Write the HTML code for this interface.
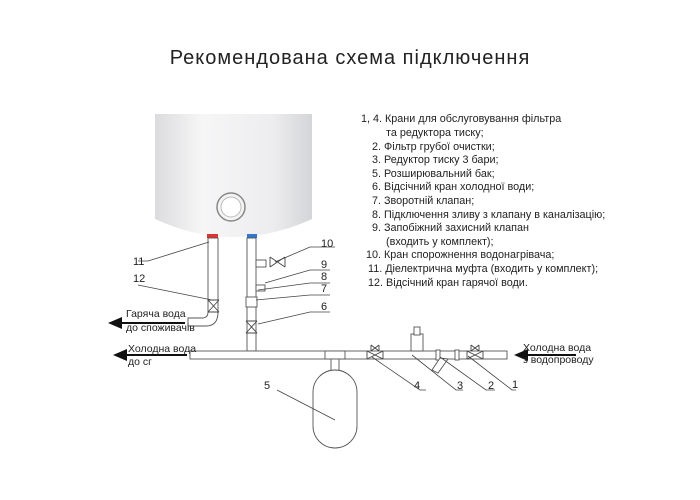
<!DOCTYPE html>
<html><head><meta charset="utf-8"><style>
body{margin:0;background:#fff;}
svg{display:block;font-family:"Liberation Sans",sans-serif;}
</style></head><body>
<svg width="700" height="500" viewBox="0 0 700 500">
<defs>
<linearGradient id="g" x1="0" x2="1"><stop offset="0" stop-color="#dcdcde"/><stop offset="0.3" stop-color="#f6f6f7"/><stop offset="0.75" stop-color="#ededef"/><stop offset="1" stop-color="#d4d5d8"/></linearGradient>
</defs>
<text x="350" y="64" font-size="20" text-anchor="middle" fill="#222" letter-spacing="1">Рекомендована схема підключення</text>
<path d="M155 114 H312 V219 Q233 255 155 219 Z" fill="url(#g)"/>
<circle cx="231" cy="207" r="14" fill="#f4f4f4" stroke="#888" stroke-width="1.5"/>
<circle cx="231" cy="207" r="10" fill="#fff" stroke="#bbb"/>
<rect x="207" y="234" width="11" height="4" fill="#d33"/>
<rect x="247" y="234" width="10" height="4" fill="#37c"/>
<g fill="#fff" stroke="#555" stroke-width="0.9">
<rect x="208" y="238" width="10" height="62"/>
<path d="M208 300 V312 Q208 318 202 318 H188 V326 H206 Q218 326 218 312 V300"/>
<rect x="247" y="238" width="9" height="113"/>
<rect x="256" y="260" width="10" height="7"/>
<rect x="246" y="297" width="11" height="10"/>
<rect x="256" y="285" width="9" height="6"/>
<rect x="190" y="351" width="317" height="8"/>
<rect x="325" y="351" width="20" height="8"/>
<rect x="331" y="359" width="8" height="12"/>
<rect x="313" y="370" width="44" height="78" rx="22"/>
<rect x="411" y="334" width="12" height="17"/>
<rect x="414" y="327" width="6" height="8"/>
<rect x="436" y="350" width="4" height="10"/>
<rect x="455" y="350" width="4" height="10"/>
<path d="M440 358 L432 370 L438 373 L448 359 Z"/>
</g>
<g fill="#fff" stroke="#444" stroke-width="0.9">
<path d="M367 351 L383 359 M367 359 L383 351 M367 351 V359 M383 351 V359"/>
<path d="M371 345 L379 351 M371 351 L379 345 M371 345 V351 M379 345 V351"/>
<path d="M467 351 L483 359 M467 359 L483 351 M467 351 V359 M483 351 V359"/>
<path d="M471 345 L479 351 M471 351 L479 345 M471 345 V351 M479 345 V351"/>
<path d="M246 321 L257 333 M257 321 L246 333 M246 321 H257 M246 333 H257"/>
<path d="M208 300 L219 312 M219 300 L208 312 M208 300 H219 M208 312 H219"/>
<path d="M270 257 L285 267 M270 267 L285 257 M270 257 V267 M285 257 V267"/>
</g>
<g stroke="#444" stroke-width="0.8" fill="none">
<path d="M138 261 H148 L209 242"/>
<path d="M138 285 L212 300"/>
<path d="M275 262 L310 247 H335"/>
<path d="M265 283 L310 270 H330"/>
<path d="M258 290 L310 283 H330"/>
<path d="M256 300 L310 295 H330"/>
<path d="M258 324 L310 312 H330"/>
<path d="M277 390 L335 420"/>
<path d="M372 357 L420 390 H426"/>
<path d="M412 355 L456 390 H463"/>
<path d="M440 357 L486 390 H495"/>
<path d="M468 356 L512 390 H516"/>
</g>
<g font-size="11" fill="#222">
<text x="133" y="265">11</text>
<text x="133" y="282">12</text>
<text x="321" y="247">10</text>
<text x="321" y="268">9</text>
<text x="321" y="280">8</text>
<text x="321" y="292">7</text>
<text x="321" y="310">6</text>
<text x="264" y="389">5</text>
<text x="414" y="389">4</text>
<text x="457" y="389">3</text>
<text x="488" y="389">2</text>
<text x="512" y="388">1</text>
</g>
<g fill="#111">
<path d="M108 323 L122 317 V329 Z"/><rect x="120" y="322" width="65" height="2"/>
<path d="M113 355 L127 349 V361 Z"/><rect x="125" y="354" width="62" height="2"/>
<path d="M514 355 L528 349 V361 Z"/><rect x="526" y="354" width="50" height="2"/>
</g>
<g font-size="10.5" fill="#222">
<text x="126" y="317">Гаряча вода</text>
<text x="126" y="331">до споживачів</text>
<text x="128" y="352">Холодна вода</text>
<text x="128" y="365">до сг</text>
<text x="523" y="351">Холодна вода</text>
<text x="523" y="363">з водопроводу</text>
</g>
<g font-size="10.8" fill="#222">
<text x="361" y="122">1, 4.  Крани для обслуговування фільтра</text>
<text x="386" y="136">та редуктора тиску;</text>
<text x="372" y="150">2.  Фільтр грубої очистки;</text>
<text x="372" y="163">3.  Редуктор тиску 3 бари;</text>
<text x="372" y="177">5.  Розширювальний бак;</text>
<text x="372" y="190">6.  Відсічний кран холодної води;</text>
<text x="372" y="204">7.  Зворотній клапан;</text>
<text x="372" y="218">8.  Підключення зливу з клапану в каналізацію;</text>
<text x="372" y="231">9.  Запобіжний захисний клапан</text>
<text x="386" y="245">(входить у комплект);</text>
<text x="366" y="258">10.  Кран спорожнення водонагрівача;</text>
<text x="368" y="272">11.  Діелектрична муфта (входить у комплект);</text>
<text x="368" y="286">12.  Відсічний кран гарячої води.</text>
</g>
</svg>
</body></html>
